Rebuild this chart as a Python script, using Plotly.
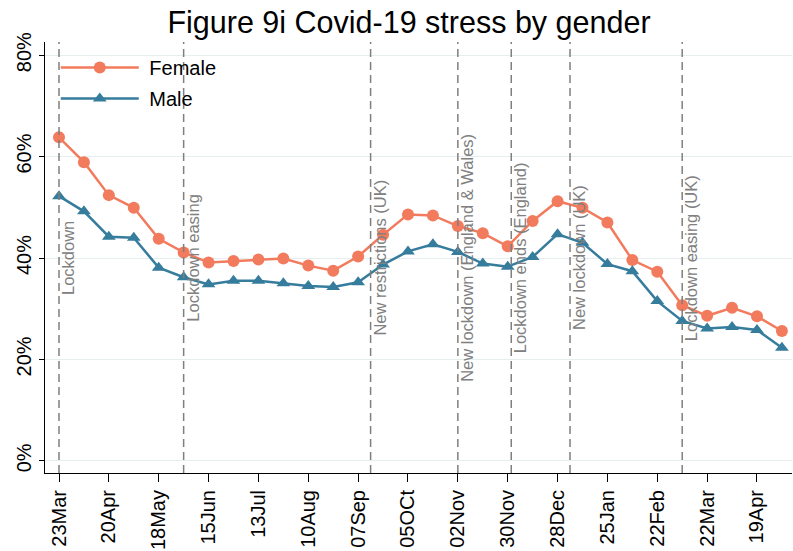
import plotly.graph_objects as go

dates = ["2020-03-23", "2020-04-06", "2020-04-20", "2020-05-04", "2020-05-18", "2020-06-01",
         "2020-06-15", "2020-06-29", "2020-07-13", "2020-07-27", "2020-08-10", "2020-08-24",
         "2020-09-07", "2020-09-21", "2020-10-05", "2020-10-19", "2020-11-02", "2020-11-16",
         "2020-11-30", "2020-12-14", "2020-12-28", "2021-01-11", "2021-01-25", "2021-02-08",
         "2021-02-22", "2021-03-08", "2021-03-22", "2021-04-05", "2021-04-19", "2021-05-03"]

female = [63.8, 58.9, 52.4, 49.9, 43.8, 41.1, 39.1, 39.4, 39.7, 39.9, 38.5, 37.5, 40.3, 44.6,
          48.6, 48.4, 46.3, 44.9, 42.3, 47.3, 51.2, 49.9, 47.0, 39.6, 37.3, 30.7, 28.6, 30.2,
          28.5, 25.6]
male = [52.2, 49.2, 44.2, 44.0, 38.1, 36.2, 34.8, 35.5, 35.5, 35.0, 34.5, 34.3, 35.2, 38.7,
        41.3, 42.7, 41.2, 38.9, 38.3, 40.2, 44.7, 43.0, 38.8, 37.4, 31.5, 27.6, 26.1, 26.4,
        25.8, 22.3]

tick_dates = ["2020-03-23", "2020-04-20", "2020-05-18", "2020-06-15", "2020-07-13", "2020-08-10",
              "2020-09-07", "2020-10-05", "2020-11-02", "2020-11-30", "2020-12-28", "2021-01-25",
              "2021-02-22", "2021-03-22", "2021-04-19"]
tick_labels = ["23Mar", "20Apr", "18May", "15Jun", "13Jul", "10Aug", "07Sep", "05OCt",
               "02Nov", "30Nov", "28Dec", "25Jan", "22Feb", "22Mar", "19Apr"]

event_dates = ["2020-03-23", "2020-06-01", "2020-09-14", "2020-11-02", "2020-12-02",
               "2021-01-04", "2021-03-08"]
event_labels = ["Lockdown", "Lockdown easing", "New restrictions (UK)",
                "New lockdown (England & Wales)", "Lockdown ends (England)",
                "New lockdown (UK)", "Lockdown easing (UK)"]

y_ticks = [0, 20, 40, 60, 80]
y_labels = ["0%", "20%", "40%", "60%", "80%"]

FEMALE_C = "#F27B5E"
MALE_C = "#367C9D"
FONT = "Liberation Sans, Arial, sans-serif"

fig = go.Figure()
fig.add_trace(go.Scatter(x=dates, y=female, name="&nbsp;Female", mode="lines+markers",
                         line=dict(color=FEMALE_C, width=2.5),
                         marker=dict(symbol="circle", size=12, color=FEMALE_C),
                         legendgroup="f"))
fig.add_trace(go.Scatter(x=dates, y=male, name="&nbsp;Male", mode="lines+markers",
                         line=dict(color=MALE_C, width=2.5),
                         marker=dict(symbol="triangle-up", size=12, color=MALE_C),
                         legendgroup="m"))

for d, lab in zip(event_dates, event_labels):
    fig.add_shape(type="line", x0=d, x1=d, y0=0, y1=1, xref="x", yref="paper",
                  line=dict(color="#7f7f7f", width=1.5, dash="8px,5px"), layer="above")
    fig.add_annotation(x=d, y=40, xref="x", yref="y", text=lab, showarrow=False,
                       textangle=-90, xanchor="left", yanchor="middle", xshift=-2,
                       font=dict(family=FONT, size=16.5, color="#808080"))

fig.update_layout(
    width=793, height=551,
    margin=dict(l=45, r=1, t=42, b=78, autoexpand=False),
    paper_bgcolor="white", plot_bgcolor="white",
    font=dict(family=FONT, color="black"),
    title=dict(text="Figure 9i Covid-19 stress by gender", x=409/793, xanchor="center",
               y=1 - 22/551, yanchor="middle", yref="container",
               font=dict(family=FONT, size=30.5, color="black")),
    legend=dict(x=0.0144, y=0.986, xanchor="left", yanchor="top",
                font=dict(family=FONT, size=20, color="black"),
                bgcolor="rgba(0,0,0,0)", itemwidth=78, tracegroupgap=2),
    showlegend=True,
)
fig.update_xaxes(type="date", range=["2020-03-15 03:20", "2021-05-08 16:00"],
                 tickvals=tick_dates, ticktext=tick_labels, tickangle=-90, automargin=False,
                 showgrid=False, showline=True, linecolor="black", linewidth=1,
                 ticks="outside", ticklen=8, tickcolor="black",
                 tickfont=dict(family=FONT, size=20, color="black"), zeroline=False)
fig.update_yaxes(range=[-2.4, 82.6], tickvals=y_ticks, ticktext=y_labels, tickangle=-90,
                 automargin=False,
                 showgrid=True, gridcolor="#e6efef", gridwidth=1,
                 showline=True, linecolor="black", linewidth=1,
                 ticks="outside", ticklen=5, tickcolor="black",
                 tickfont=dict(family=FONT, size=20, color="black"), zeroline=False)

fig.write_html("out.html", config={"displayModeBar": False},
               post_script="document.body.style.margin='0';")
